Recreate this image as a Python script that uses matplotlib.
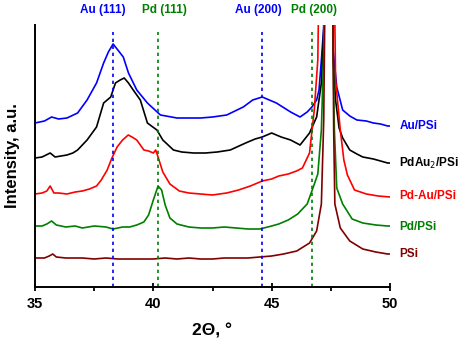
import matplotlib
matplotlib.use("Agg")
import matplotlib.pyplot as plt
from matplotlib.ticker import MultipleLocator

plt.rcParams['font.family'] = ['Liberation Sans', 'DejaVu Sans']

# ---- data (2Theta in degrees, intensity in arbitrary units, offset-stacked) ----
au_x = [35.0, 35.4, 35.7, 36.0, 36.35, 36.8, 37.2, 37.6, 37.9, 38.1, 38.3, 38.5, 38.73, 38.95,
        39.3, 39.75, 40.3, 41.0, 41.5, 42.0, 42.5, 43.1, 43.8, 44.2, 44.6, 44.9, 45.2, 45.8,
        46.2, 46.5, 46.7, 46.9, 47.0, 47.1, 47.2, 47.25, 47.55, 47.6, 47.68, 47.75, 48.0,
        48.3, 48.6, 49.0, 49.3, 49.6, 49.9, 50.0]
au_y = [164, 166, 170, 168, 169, 174, 187, 204, 224, 235, 243, 237, 230, 214,
        197, 184, 172, 169, 169, 169, 170, 172, 180, 187, 190, 187, 184, 175,
        170, 175, 180, 187, 197, 227, 260, 400, 400, 237, 217, 200, 177,
        171, 167, 166, 164, 163, 161, 161]

pdau2_x = [35.0, 35.3, 35.64, 35.85, 36.1, 36.35, 36.6, 36.8, 37.2, 37.6, 37.75, 37.9, 38.2, 38.4,
           38.6, 38.77, 38.95, 39.15, 39.45, 39.75, 40.15, 40.4, 40.85, 41.2, 41.7, 42.2,
           42.7, 43.25, 43.9, 44.3, 44.6, 45.0, 45.4, 45.8, 46.2, 46.6, 46.9, 47.1, 47.2,
           47.25, 47.55, 47.6, 47.7, 47.85, 48.0, 48.3, 48.6, 48.85, 49.3, 49.6, 49.9, 50.0]
pdau2_y = [129, 130, 134, 130, 131, 132, 134, 137, 147, 160, 172, 184, 190, 204,
           207, 209, 204, 197, 187, 164, 157, 147, 137, 135, 134, 134,
           135, 137, 144, 148, 150, 154, 150, 147, 142, 154, 170, 204, 257,
           400, 400, 227, 187, 159, 149, 137, 133, 130, 128, 126, 124, 124]

pdau_x = [35.0, 35.3, 35.5, 35.64, 35.8, 36.0, 36.35, 36.7, 37.0, 37.3, 37.6, 37.8, 38.05,
          38.25, 38.47, 38.7, 38.94, 39.1, 39.3, 39.6, 39.8, 40.0, 40.1, 40.2, 40.4, 40.7,
          41.1, 41.5, 42.0, 42.5, 43.1, 43.6, 44.1, 44.6, 45.0, 45.3, 45.7, 46.05, 46.3,
          46.6, 46.8, 46.95, 47.05, 47.6, 47.7, 47.9, 48.05, 48.2, 48.5, 49.0, 49.5, 50.0]
pdau_y = [93, 94, 96, 101, 94, 94, 93, 95, 96, 98, 101, 107, 117,
          129, 140, 147, 152, 150, 147, 137, 136, 134, 137, 130, 115, 103,
          96, 94, 93, 92, 94, 97, 101, 106, 108, 111, 113, 116, 119,
          134, 177, 227, 400, 400, 207, 157, 127, 112, 97, 93, 91, 90]

pd_x = [35.0, 35.3, 35.5, 35.7, 35.9, 36.3, 36.7, 37.0, 37.5, 38.0, 38.3, 38.7, 39.0, 39.3,
        39.6, 39.8, 40.0, 40.2, 40.35, 40.5, 40.7, 41.0, 41.5, 42.0, 42.5, 43.0, 43.5, 44.0,
        44.5, 45.0, 45.3, 45.7, 46.1, 46.5, 46.7, 46.95, 47.1, 47.2, 47.25, 47.55, 47.6,
        47.65, 47.75, 48.0, 48.4, 48.85, 49.4, 49.9, 50.0]
pd_y = [61, 61, 63, 66, 62, 60, 61, 59, 61, 60, 58, 60, 60, 62,
        65, 72, 87, 101, 97, 82, 69, 63, 60, 59, 59, 60, 59, 58,
        58, 61, 63, 67, 73, 83, 96, 113, 157, 237, 400, 400, 227,
        157, 99, 83, 68, 64, 62, 61, 61]

psi_x = [35.0, 35.4, 35.6, 35.75, 35.9, 36.3, 37.0, 37.5, 38.0, 38.5, 39.0, 39.5, 40.0, 40.5,
         41.0, 41.5, 42.0, 42.5, 43.0, 43.5, 44.0, 44.5, 45.0, 45.5, 46.06, 46.6, 46.9,
         47.1, 47.2, 47.3, 47.55, 47.62, 47.67, 47.9, 48.3, 48.85, 49.4, 49.9, 50.0]
psi_y = [29, 29, 31, 33, 30, 29, 29, 28, 29, 28, 28, 28, 28, 29,
         28, 29, 28, 28, 29, 29, 29, 30, 31, 33, 36, 44, 56,
         83, 167, 400, 400, 157, 83, 59, 46, 38, 35, 33, 33]

series_names = ["Au/PSi", "PdAu$_2$/PSi", "Pd-Au/PSi", "Pd/PSi", "PSi"]
series_colors = ["#0000ff", "#000000", "#ff0000", "#007f00", "#800000"]
label_y = [161, 124, 91, 60, 33]

ref_pos = [38.3, 40.2, 44.6, 46.7]
ref_names = ["Au (111)", "Pd (111)", "Au (200)", "Pd (200)"]
ref_colors = ["#0000ff", "#008000", "#0000ff", "#008000"]
ref_text_x = [37.85, 40.45, 44.45, 46.78]

x_ticks = [35, 40, 45, 50]

# ---- figure ----
fig = plt.figure(figsize=(4.59, 3.42), dpi=100)
ax = fig.add_axes([35/459, 55/342, 355/459, 262/342])

xs = [au_x, pdau2_x, pdau_x, pd_x, psi_x]
ys = [au_y, pdau2_y, pdau_y, pd_y, psi_y]
for x, y, c in zip(xs, ys, series_colors):
    ax.plot(x, y, color=c, lw=1.2)

for p, c in zip(ref_pos, ref_colors):
    ax.axvline(p, ymin=0, ymax=0.975, color=c, lw=1.2, ls=(0, (2, 2.2)))

ax.set_xlim(35, 50)
ax.set_ylim(0, 262)

for name, c, ly in zip(series_names, series_colors, label_y):
    ax.text(50.4, ly, name, color=c, fontsize=8.5, fontweight='bold',
            va='center', ha='left', clip_on=False)

for name, c, tx in zip(ref_names, ref_colors, ref_text_x):
    ax.text(tx, 277, name, color=c, fontsize=8.5, fontweight='bold',
            va='center', ha='center', clip_on=False)

ax.spines['top'].set_visible(False)
ax.spines['right'].set_visible(False)
ax.spines['left'].set_linewidth(1.4)
ax.spines['bottom'].set_linewidth(1.4)
ax.set_yticks([])
ax.set_xticks(x_ticks)
ax.xaxis.set_minor_locator(MultipleLocator(2.5))
ax.tick_params(axis='x', which='major', direction='inout', length=6, width=1.3,
               labelsize=10.5, pad=4.5)
ax.tick_params(axis='x', which='minor', direction='out', length=3, width=1.3)
for lab in ax.get_xticklabels():
    lab.set_fontweight('bold')

ax.set_xlabel("2\u0398, \u00b0", fontsize=12.5, fontweight='bold', labelpad=9)
ax.set_ylabel("Intensity, a.u.", fontsize=12, fontweight='bold', labelpad=11)

fig.savefig("out.png", dpi=100)
